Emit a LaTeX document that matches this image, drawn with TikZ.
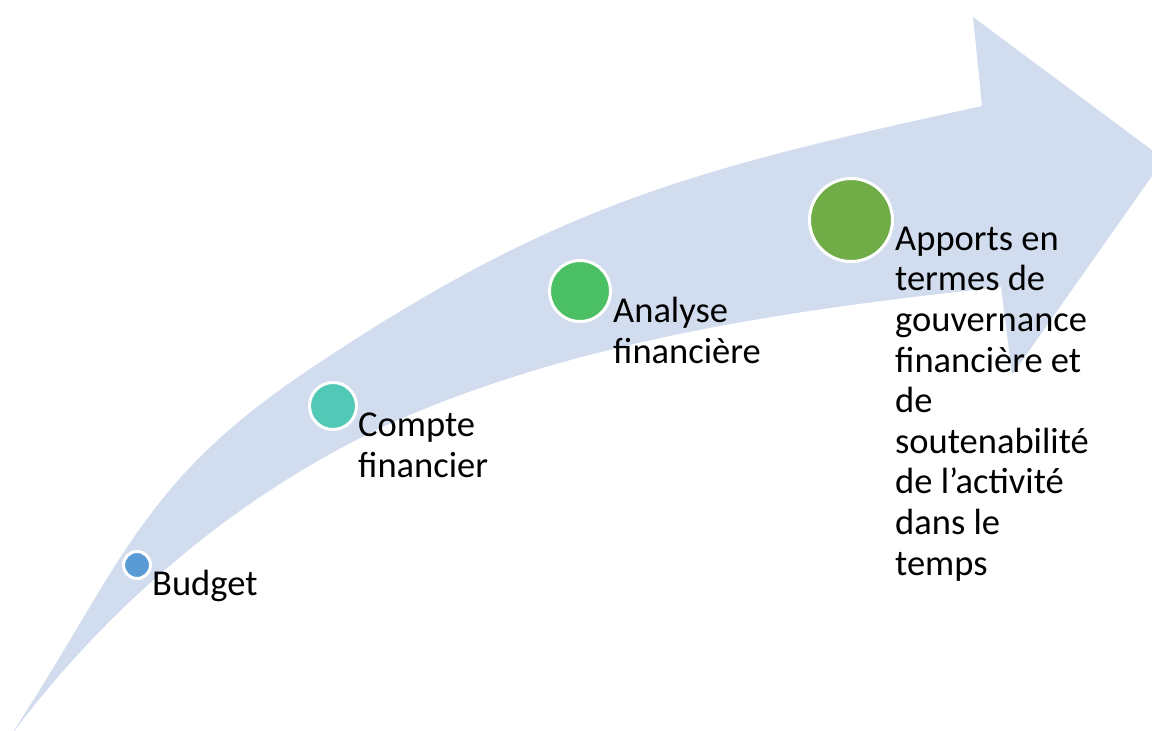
\documentclass[tikz,border=0pt]{standalone}
\usepackage{fontspec}
\setmainfont{Carlito}
\usepackage{xcolor}

\definecolor{flowblue}{HTML}{D1DDEF}
\definecolor{dotA}{HTML}{5B9BD5}
\definecolor{dotB}{HTML}{52C9B6}
\definecolor{dotC}{HTML}{4BBF63}
\definecolor{dotD}{HTML}{70AD47}

\begin{document}
\begin{tikzpicture}[x=1pt, y=-1pt,
    flow/.style={fill=flowblue},
    dot/.style={circle, draw=white, line width=3pt, inner sep=0pt},
    steptext/.style={anchor=base west, inner sep=0pt, align=left,
                     font=\fontsize{36.5}{40.6}\selectfont}]

                    \useasboundingbox (0,0) rectangle (1152,731);
                    \clip (0,0) rectangle (1152,731);

                    % curved band with its head
                    \fill[flow] (9,738) .. controls (119,571) and (138,485) .. (304,373)
                        .. controls (553,205) and (689,170) .. (982,106)
                        -- (973,17) -- (1164,159) -- (1012,375) -- (1001,287)
                        .. controls (807,308) and (610,335) .. (429,407)
                        .. controls (263,473) and (115,595) .. (9,738)
                        -- cycle;

                    % the four steps
                    \node[dot, fill=dotA, minimum size=27pt] (budget) at (137,565) {};
                    \node[dot, fill=dotB, minimum size=47pt] (compte) at (333,406) {};
                    \node[dot, fill=dotC, minimum size=61pt] (analyse) at (580,291) {};
                    \node[dot, fill=dotD, minimum size=83pt] (apports) at (851,220) {};

                    % labels (base = last line)
                    \node[steptext] (budgettxt) at (152,595) {Budget};
                    \node[steptext] (comptetxt) at (358,477) {Compte\\financier};
                    \node[steptext] (analysetxt) at (613,363) {Analyse\\financière};
                    \node[steptext] (apportstxt) at (895,575) {Apports en\\termes de\\gouvernance\\financière et\\de\\soutenabilité\\de l’activité\\dans le\\temps};

\end{tikzpicture}
\end{document}
